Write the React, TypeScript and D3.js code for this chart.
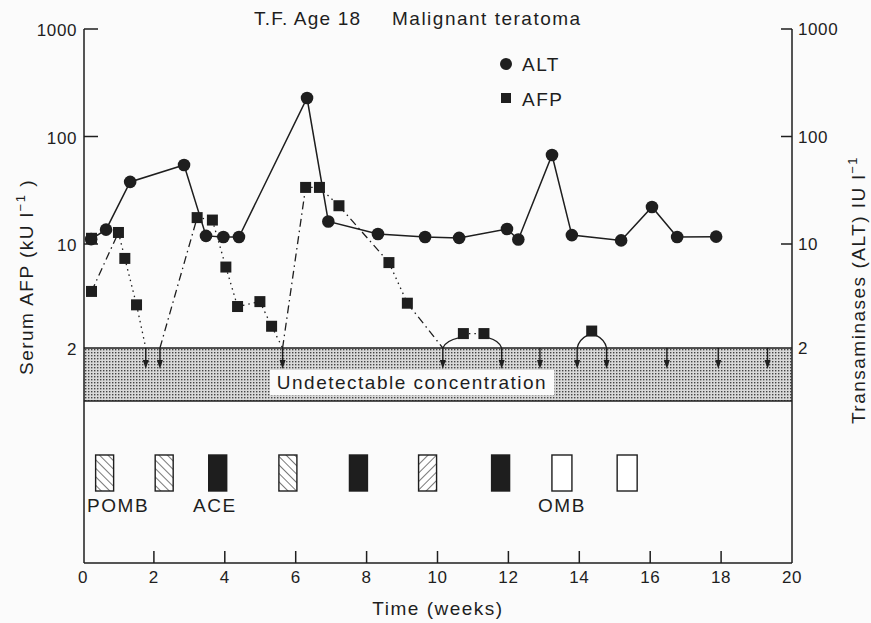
import React from "react";
import * as d3 from "d3";

// ALT (transaminases) series
const altWeeks = [0.23, 0.65, 1.33, 2.85, 3.47, 3.96, 4.4, 6.32, 6.92, 8.32, 9.65, 10.61, 11.96, 12.28, 13.23, 13.79, 15.18, 16.05, 16.76, 17.86];
const altValues = [11.1, 13.6, 37.8, 54.3, 11.9, 11.6, 11.6, 228, 16.2, 12.4, 11.6, 11.4, 13.8, 11.0, 67.3, 12.1, 10.8, 22.1, 11.6, 11.7];

// AFP series (null = undetectable)
const afpWeeks = [0.24, 0.24, 1.0, 1.18, 1.51, 1.77, 2.17, 3.22, 3.65, 4.03, 4.36, 4.99, 5.32, 5.63, 6.28, 6.67, 7.22, 8.63, 9.15, 10.15, 10.73, 11.31, 11.81, 12.89, 13.94, 14.35, 14.77, 16.47, 17.92, 19.31];
const afpValues: (number | null)[] = [11.3, 4.8, 12.8, 8.0, 3.9, null, null, 17.6, 16.7, 7.0, 3.8, 4.1, 2.8, null, 33.6, 33.6, 22.7, 7.5, 4.0, null, 2.5, 2.5, null, null, null, 2.6, null, null, null, null];
// connection from point i to i+1
const afpLinks = ["none", "dashdot", "dot", "dot", "dot", "none", "dashdot", "dot", "dot", "dot", "dot", "dot", "dot", "dashdot", "dot", "dot", "dashdot", "dot", "dashdot", "curve", "dot", "curve", "none", "none", "curve", "curve", "none", "none", "none"];

// chemotherapy courses
const courseWeeks = [0.61, 2.29, 3.8, 5.78, 7.77, 9.72, 11.78, 13.51, 15.35];
const courseTypes = ["POMB", "POMB", "ACE", "POMB", "ACE", "POMB2", "ACE", "OMB", "OMB"];
const courseLabels = [
  { text: "POMB", week: 0.99 },
  { text: "ACE", week: 3.72 },
  { text: "OMB", week: 13.51 },
];

const xTicks = [0, 2, 4, 6, 8, 10, 12, 14, 16, 18, 20];
const yTicks = [1000, 100, 10, 2];
const yTickMarks = [1000, 100, 10];

const FONT = "'Liberation Sans', Arial, Helvetica, sans-serif";
const INK = "#1e1e1e";
const LS = 1.5;

export default function App() {
  const x = d3.scaleLinear().domain([0, 20]).range([83, 792]);
  const y = d3.scaleLog().domain([2, 10, 1000]).range([348, 244, 29]);
  const left = x(0) + 1;
  const right = x(20);
  const top = y(1000);
  const bottom = 563;
  const bandTop = y(2);
  const bandBottom = 401;
  const boxTop = 455;
  const boxH = 36;
  const boxW = 18;

  const altLine = d3
    .line<number>()
    .x((_, i) => x(altWeeks[i]))
    .y((v) => y(v));

  const py = (v: number | null) => (v == null ? bandTop : y(v));

  const dashes: Record<string, string> = {
    dashdot: "8 4 1.5 4",
    dot: "1.5 4",
  };

  const links = afpLinks.map((kind, i) => {
    if (kind === "none") return null;
    const x0 = x(afpWeeks[i]);
    const y0 = py(afpValues[i]);
    const x1 = x(afpWeeks[i + 1]);
    const y1 = py(afpValues[i + 1]);
    if (kind === "curve") {
      const aIsFirst = afpValues[i] == null;
      const ax = aIsFirst ? x0 : x1;
      const sx = aIsFirst ? x1 : x0;
      const sy = aIsFirst ? y1 : y0;
      const edge = aIsFirst ? sx - 4 : sx + 4;
      const p = d3.path();
      p.moveTo(ax, bandTop);
      p.quadraticCurveTo(ax + (edge - ax) * 0.15, (sy + bandTop) / 2, edge, sy + 4);
      return <path key={i} d={p.toString()} fill="none" stroke={INK} strokeWidth={1.3} />;
    }
    return (
      <line key={i} x1={x0} y1={y0} x2={x1} y2={y1} stroke={INK} strokeWidth={1.3} strokeDasharray={dashes[kind]} />
    );
  });

  return (
    <svg width={871} height={623} style={{ position: "absolute", left: 0, top: 0, background: "#fbfbfb" }} fontFamily={FONT}>
      <defs>
        <pattern id="stipple" width={3} height={3} patternUnits="userSpaceOnUse">
          <rect width={3} height={3} fill="#d8d8d8" />
          <rect x={1} y={1} width={1.4} height={1.4} fill="#444" />
        </pattern>
        <pattern id="hatchBack" width={6} height={6} patternUnits="userSpaceOnUse" patternTransform="rotate(-45)">
          <rect width={6} height={6} fill="#fff" />
          <line x1={0} y1={0} x2={0} y2={6} stroke={INK} strokeWidth={1.2} />
        </pattern>
        <pattern id="hatchFwd" width={6} height={6} patternUnits="userSpaceOnUse" patternTransform="rotate(45)">
          <rect width={6} height={6} fill="#fff" />
          <line x1={0} y1={0} x2={0} y2={6} stroke={INK} strokeWidth={1.2} />
        </pattern>
      </defs>

      {/* title */}
      <text x={254} y={25} fontSize={19} letterSpacing={1.2} fill={INK}>
        T.F. Age 18
      </text>
      <text x={392} y={25} fontSize={19} letterSpacing={LS} fill={INK}>
        Malignant teratoma
      </text>

      {/* undetectable band */}
      <rect x={left} y={bandTop} width={right - left} height={bandBottom - bandTop} fill="url(#stipple)" />
      <line x1={left} x2={right} y1={bandTop} y2={bandTop} stroke={INK} strokeWidth={1.3} />
      <line x1={left} x2={right} y1={bandBottom} y2={bandBottom} stroke={INK} strokeWidth={1.3} />
      <rect x={270} y={370} width={284} height={25} fill="#fbfbfb" />
      <text x={412} y={389} fontSize={19} letterSpacing={LS} fill={INK} textAnchor="middle">
        Undetectable concentration
      </text>

      {/* axes */}
      <line x1={left} x2={left} y1={top} y2={bottom} stroke={INK} strokeWidth={1.5} />
      <line x1={right} x2={right} y1={top} y2={bottom} stroke={INK} strokeWidth={1.5} />
      <line x1={left} x2={right} y1={bottom} y2={bottom} stroke={INK} strokeWidth={1.5} />
      {yTickMarks.map((t) => (
        <g key={t}>
          <line x1={left} x2={left + 14} y1={y(t)} y2={y(t)} stroke={INK} strokeWidth={1.5} />
          <line x1={right - 11} x2={right} y1={y(t)} y2={y(t)} stroke={INK} strokeWidth={1.5} />
        </g>
      ))}
      {yTicks.map((t) => (
        <g key={t} fontSize={17} fill={INK} letterSpacing={0.6}>
          <text x={77} y={y(t) + 7} textAnchor="end">
            {t}
          </text>
          <text x={798} y={y(t) + 6}>
            {t}
          </text>
        </g>
      ))}
      {xTicks.map((t) => (
        <g key={t}>
          {t > 0 && t < 20 && <line x1={x(t)} x2={x(t)} y1={bottom} y2={bottom - 12} stroke={INK} strokeWidth={1.5} />}
          <text x={x(t)} y={583} fontSize={17} letterSpacing={0.6} fill={INK} textAnchor="middle">
            {t}
          </text>
        </g>
      ))}
      <text x={438} y={615} fontSize={19} letterSpacing={LS} fill={INK} textAnchor="middle">
        Time (weeks)
      </text>
      <text transform="translate(33,277) rotate(-90)" fontSize={19} letterSpacing={LS} fill={INK} textAnchor="middle">
        Serum AFP (kU l
        <tspan dy={-8} fontSize={13}>
          −1
        </tspan>
        <tspan dy={8}> )</tspan>
      </text>
      <text transform="translate(865,290) rotate(-90)" fontSize={19} letterSpacing={LS} fill={INK} textAnchor="middle">
        Transaminases (ALT) IU l
        <tspan dy={-8} fontSize={13}>
          −1
        </tspan>
      </text>

      {/* legend */}
      <circle cx={506} cy={64} r={6} fill={INK} />
      <text x={522} y={71} fontSize={19} letterSpacing={LS} fill={INK}>
        ALT
      </text>
      <rect x={501} y={93} width={10} height={10} fill={INK} />
      <text x={522} y={106} fontSize={19} letterSpacing={LS} fill={INK}>
        AFP
      </text>

      {/* AFP connections */}
      {links}

      {/* undetectable arrows */}
      {afpWeeks.map((w, i) =>
        afpValues[i] == null ? (
          <g key={"a" + i}>
            <line x1={x(w)} x2={x(w)} y1={bandTop} y2={362} stroke={INK} strokeWidth={1.4} />
            <path d={`M${x(w) - 3},360 L${x(w) + 3},360 L${x(w)},369 Z`} fill={INK} />
          </g>
        ) : null
      )}

      {/* ALT line and points */}
      <path d={altLine(altValues) || ""} fill="none" stroke={INK} strokeWidth={1.5} />
      {altValues.map((v, i) => (
        <circle key={"c" + i} cx={x(altWeeks[i])} cy={y(v)} r={6.3} fill={INK} />
      ))}

      {/* AFP squares */}
      {afpValues.map((v, i) =>
        v == null ? null : (
          <rect key={"s" + i} x={x(afpWeeks[i]) - 5.5} y={y(v) - 5.5} width={11} height={11} fill={INK} />
        )
      )}

      {/* chemotherapy courses */}
      {courseWeeks.map((w, i) => {
        const t = courseTypes[i];
        const fill = t === "ACE" ? INK : t === "POMB" ? "url(#hatchBack)" : t === "POMB2" ? "url(#hatchFwd)" : "#fff";
        const wdt = t === "OMB" ? 20 : boxW;
        return (
          <rect key={"b" + i} x={x(w) - wdt / 2} y={boxTop} width={wdt} height={boxH} fill={fill} stroke={INK} strokeWidth={1.4} />
        );
      })}
      {courseLabels.map((l) => (
        <text key={l.text} x={x(l.week)} y={512} fontSize={19} letterSpacing={LS} fill={INK} textAnchor="middle">
          {l.text}
        </text>
      ))}
    </svg>
  );
}
